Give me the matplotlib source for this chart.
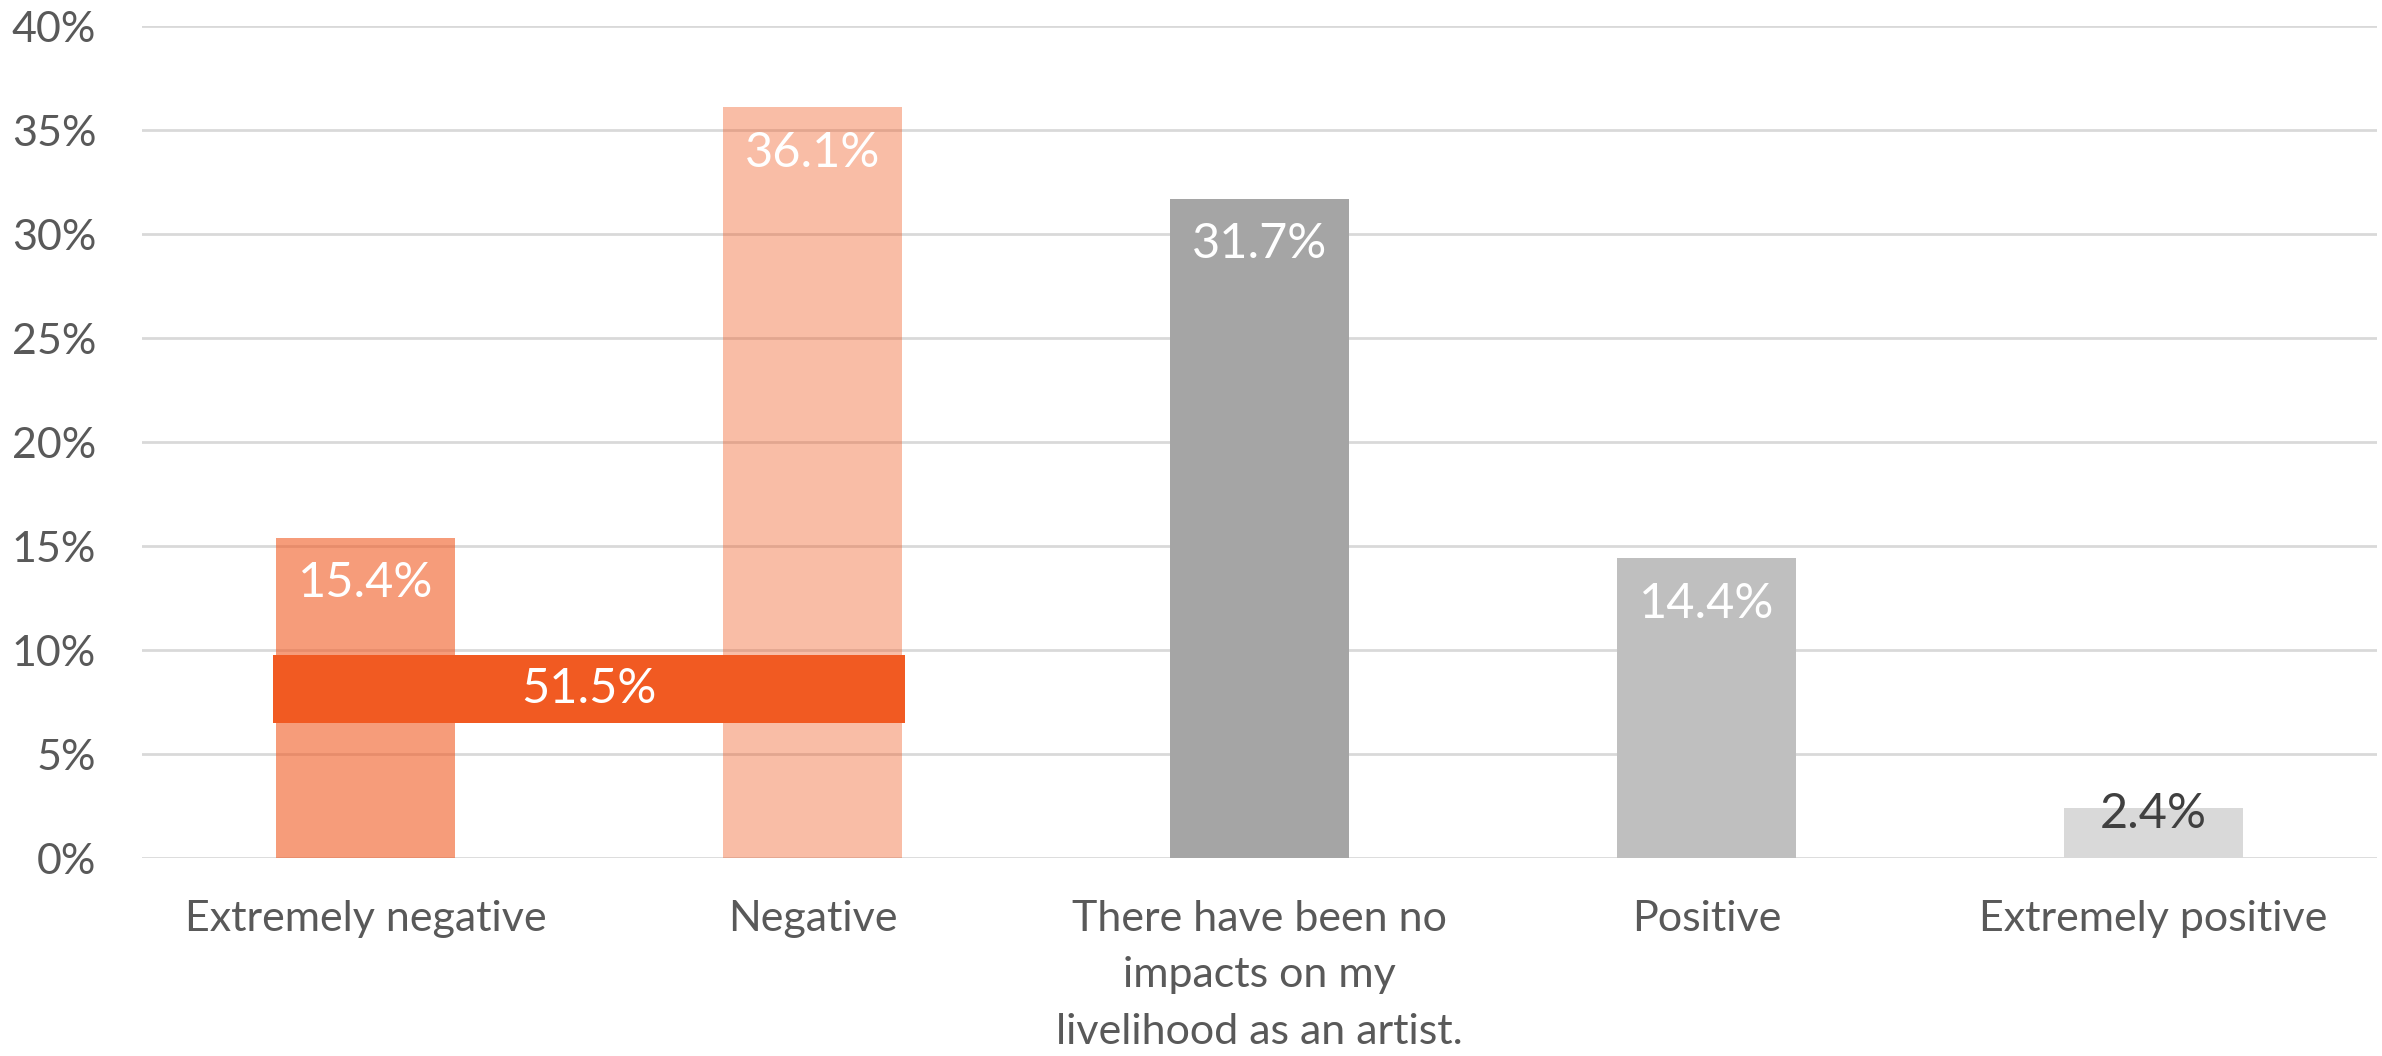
import matplotlib
matplotlib.use("Agg")
import matplotlib.pyplot as plt
import numpy as np

categories = ["Extremely negative", "Negative",
              "There have been no\nimpacts on my\nlivelihood as an artist.",
              "Positive", "Extremely positive"]
values = [15.4, 36.1, 31.7, 14.4, 2.4]
value_labels = ["15.4%", "36.1%", "31.7%", "14.4%", "2.4%"]
combined_value = 51.5
combined_label = "51.5%"
yticks = [0, 5, 10, 15, 20, 25, 30, 35, 40]
ytick_labels = ["0%", "5%", "10%", "15%", "20%", "25%", "30%", "35%", "40%"]

bar_colors = [(241/255, 90/255, 34/255, 0.6), (241/255, 90/255, 34/255, 0.4),
              "#A5A5A5", "#BFBFBF", "#D9D9D9"]
band_color = "#F15A22"

plt.rcParams['font.family'] = ['Lato', 'DejaVu Sans']

fig = plt.figure(figsize=(23.82, 10.56), dpi=100)
ax = fig.add_axes([142/2382, 1-858/1056, (2377-142)/2382, (858-26)/1056])

x = np.arange(len(categories))
bw = 0.4
ax.bar(x, values, width=bw, color=bar_colors, zorder=2)

# combined band across first two bars
left = x[0] - bw/2 - 0.007
right = x[1] + bw/2 + 0.007
ax.bar((left+right)/2, 3.25, bottom=6.5, width=right-left, color=band_color, zorder=3)
ax.text((left+right)/2, 6.5 + 3.25/2, combined_label, ha='center', va='center',
        color='white', fontsize=35, zorder=4)

for xi, v, lab in zip(x, values, value_labels):
    if v < 5:
        ax.text(xi, v - 0.3, lab, ha='center', va='center', color='#404040', fontsize=35, zorder=4)
    else:
        ax.text(xi, v - 2.2, lab, ha='center', va='center', color='white', fontsize=35, zorder=4)

ax.set_xlim(-0.5, len(categories) - 0.5)
ax.set_ylim(0, 40)
ax.set_yticks(yticks)
ax.set_yticklabels(ytick_labels)
ax.set_xticks(x)
ax.set_xticklabels(categories, linespacing=1.6)
ax.tick_params(axis='y', length=0, pad=33, labelsize=31, labelcolor='#595959')
ax.tick_params(axis='x', length=0, pad=30, labelsize=31, labelcolor='#595959')
ax.grid(axis='y', color='#D9D9D9', linewidth=2, zorder=0)
ax.set_axisbelow(True)
for s in ax.spines.values():
    s.set_visible(False)

fig.savefig("out.png", dpi=100, facecolor='white')
